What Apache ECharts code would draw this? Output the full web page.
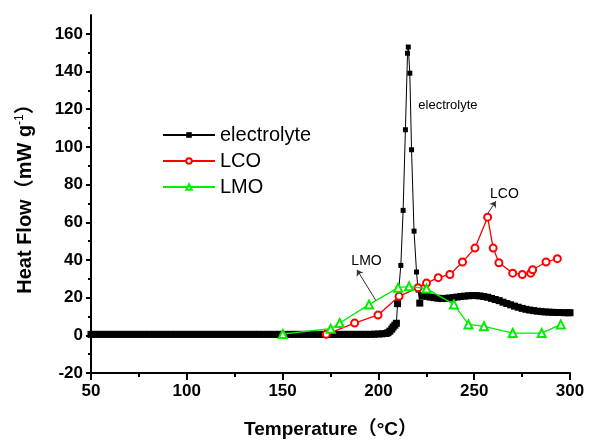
<!DOCTYPE html>
<html><head><meta charset="utf-8">
<script src="https://cdn.jsdelivr.net/npm/echarts@6/dist/echarts.min.js"></script>
<style>html,body{margin:0;padding:0;background:#fff}#c{width:589px;height:441px}</style>
</head><body><div id="c"></div>
<script>
// ---- data ----
const seriesNames = ['electrolyte', 'LCO', 'LMO'];
const elecTemp = [50,52,54,56,58,60,62,64,66,68,70,72,74,76,78,80,82,84,86,88,90,92,94,96,98,100,102,104,106,108,110,112,114,116,118,120,122,124,126,128,130,132,134,136,138,140,142,144,146,148,150,152,154,156,158,160,162,164,166,168,170,172,174,176,178,180,182,184,186,188,190,192,194,196,198,200,202,204,
  205,206,207,207.7,208.6,209.4,210,211.7,212.9,214.1,215.2,215.6,216.4,217.3,218.6,219.9,220.7,221.6,
  223,225,227,229,231,233,235,237,239,241,243,245,247,249,251,253,255,257,259,261,263,265,267,269,271,273,275,277,279,281,283,285,287,289,291,293,295,297,299,300];
const elecHF = [0.5,0.5,0.5,0.5,0.5,0.5,0.5,0.5,0.5,0.5,0.5,0.5,0.5,0.5,0.5,0.5,0.5,0.5,0.5,0.5,0.5,0.5,0.5,0.5,0.5,0.5,0.5,0.5,0.5,0.5,0.5,0.5,0.5,0.5,0.5,0.5,0.5,0.5,0.5,0.5,0.5,0.5,0.5,0.5,0.5,0.5,0.5,0.5,0.5,0.5,0.5,0.5,0.5,0.5,0.5,0.5,0.5,0.5,0.5,0.5,0.5,0.5,0.5,0.5,0.5,0.5,0.5,0.5,0.5,0.5,0.5,0.5,0.5,0.5,0.6,0.7,0.8,1.0,
  1.4,2.2,3.3,4.4,5.4,6.4,16.8,37.1,66.3,109.1,149.7,153,139.1,98.5,55.3,33.6,24,17.1,
  21,20.7,20.3,20,19.7,19.5,19.6,19.8,20,20.3,20.6,20.8,21,21.1,21.1,20.9,20.6,20.2,19.6,19,18.4,17.6,16.9,16.2,15.5,14.9,14.3,13.8,13.4,13.1,12.8,12.6,12.4,12.3,12.2,12.1,12.1,12,12,12];
const lcoTemp = [172.8,187.6,199.8,210.8,220.7,225.1,231.2,237.3,243.9,250.4,257,259.9,262.9,270.1,275.1,279.5,280.5,287.5,293.4];
const lcoHF   = [0.5,6.5,10.8,20.7,25.3,27.7,30.6,32.3,38.9,46.3,62.7,46.3,38.5,33,32.3,33,34.8,38.9,40.7];
const lmoTemp = [150.1,175.1,179.8,195.1,210.3,216,225.1,239.4,247,255.1,270.1,285.2,295.2];
const lmoHF   = [0.7,3.5,6.5,16.3,25.3,26,24.8,16.4,5.8,4.8,1.2,1.2,5.8];
const yTicks = [-20,0,20,40,60,80,100,120,140,160];
const xTicks = [50,100,150,200,250,300];

// ---- chart ----
const FONT = 'Arial, "Liberation Sans", Helvetica, "Noto Sans CJK SC", sans-serif';
const pairs = (xs, ys) => xs.map((x, i) => [x, ys[i]]);
const textMark = (name, coord, size) => ({
  name: name, coord: coord, symbol: 'circle', symbolSize: 1,
  itemStyle: {color: 'rgba(0,0,0,0)'},
  label: {show: true, position: 'inside', formatter: '{b}', color: '#000', fontSize: size, fontFamily: FONT}
});
const arrowMark = (from, to) => ([
  {coord: from, symbol: 'none'},
  {coord: to, symbol: 'arrow'}
]);

const chart = echarts.init(document.getElementById('c'), null, {renderer: 'canvas'});
const axisCommon = {
  type: 'value',
  axisLine: {onZero: false, lineStyle: {color: '#000', width: 2}},
  splitLine: {show: false},
  axisLabel: {fontFamily: FONT, fontSize: 17, fontWeight: 'bold', color: '#000'},
  nameTextStyle: {fontFamily: FONT, fontSize: 18, fontWeight: 'bold', color: '#000'},
  nameLocation: 'middle'
};
chart.setOption({
  animation: false,
  backgroundColor: '#fff',
  grid: {left: 91, right: 19, top: 15, bottom: 68, containLabel: false, outerBoundsMode: 'none'},
  legend: {
    data: seriesNames, orient: 'vertical', left: 157, top: 120,
    itemWidth: 52, itemHeight: 7, itemGap: 6,
    textStyle: {fontFamily: FONT, fontSize: 20, color: '#000'}
  },
  xAxis: Object.assign({}, axisCommon, {
    min: 50, max: 300, interval: 50,
    name: 'Temperature（°C）', nameGap: 47,
    nameTextStyle: Object.assign({}, axisCommon.nameTextStyle, {fontSize: 19}),
    axisTick: {length: 7, lineStyle: {width: 2, color: '#000'}},
    minorTick: {show: true, splitNumber: 2, length: 4, lineStyle: {width: 2, color: '#000'}},
    axisLabel: Object.assign({}, axisCommon.axisLabel, {margin: 10, customValues: xTicks})
  }),
  yAxis: Object.assign({}, axisCommon, {
    min: -20, max: 170, interval: 20,
    name: 'Heat Flow（mW g{sup|-1}）', nameGap: 54,
    nameTextStyle: Object.assign({}, axisCommon.nameTextStyle, {
      fontSize: 20,
      rich: {sup: {fontSize: 12, fontWeight: 'normal', fontFamily: FONT, color: '#000', verticalAlign: 'top', padding: [0, 0, 11, 0]}}
    }),
    axisTick: {length: 5, customValues: yTicks, lineStyle: {width: 2, color: '#000'}},
    minorTick: {show: true, splitNumber: 2, length: 3, lineStyle: {width: 2, color: '#000'}},
    axisLabel: Object.assign({}, axisCommon.axisLabel, {margin: 8, customValues: yTicks})
  }),
  series: [
    {
      name: 'electrolyte', type: 'line', data: pairs(elecTemp, elecHF),
      symbol: 'rect', showAllSymbol: true,
      symbolSize: function (v) { return v[1] < 22 ? 7 : 5; },
      itemStyle: {color: '#000'}, lineStyle: {color: '#000', width: 1},
      markPoint: {silent: true, data: [textMark('electrolyte', [236.3, 122], 13)]},
      z: 2
    },
    {
      name: 'LCO', type: 'line', data: pairs(lcoTemp, lcoHF),
      symbol: 'emptyCircle', symbolSize: 7, showAllSymbol: true,
      itemStyle: {color: '#ff0000', borderWidth: 1.2}, lineStyle: {color: '#ff0000', width: 1.3},
      markPoint: {silent: true, data: [textMark('LCO', [265.8, 74.8], 14)]},
      markLine: {silent: true, symbolSize: 6, label: {show: false},
        lineStyle: {color: '#333', width: 1, type: 'solid'},
        data: [arrowMark([257.2, 64.8], [261.3, 71.2])]},
      z: 3
    },
    {
      name: 'LMO', type: 'line', data: pairs(lmoTemp, lmoHF),
      symbol: 'emptyTriangle', symbolSize: 8, showAllSymbol: true,
      itemStyle: {color: '#00ee00', borderWidth: 1.2}, lineStyle: {color: '#00ee00', width: 1.3},
      markPoint: {silent: true, data: [textMark('LMO', [193.8, 39.3], 14)]},
      markLine: {silent: true, symbolSize: 6, label: {show: false},
        lineStyle: {color: '#333', width: 1, type: 'solid'},
        data: [arrowMark([198.6, 18.6], [188.8, 34.8])]},
      z: 4
    }
  ]
});
</script></body></html>
